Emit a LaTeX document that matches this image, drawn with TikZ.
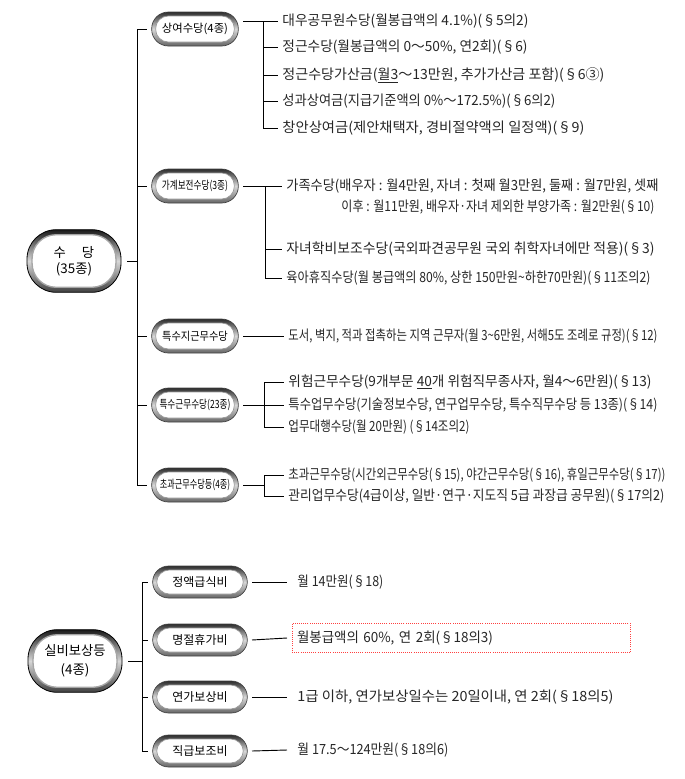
\documentclass[tikz,border=0pt]{standalone}
\usepackage{fontspec}
\setmainfont{Noto Sans CJK KR}
\usepackage{graphicx}
\usepackage{tikz}
\usetikzlibrary{positioning, calc}
\definecolor{ringdark}{RGB}{45,45,45}
\definecolor{ringlight}{RGB}{215,215,215}
% stretch a line to a width given in pixels of the layout
\newcommand{\fitw}[2]{\resizebox{\dimexpr 0.75pt*#1\relax}{\height}{#2}}

\begin{document}
\begin{tikzpicture}[x=0.75pt, y=-0.75pt, line width=0.7pt,
    pill/.style={rounded corners=12.5pt, minimum width=65pt, minimum height=25.5pt, inner sep=1pt,
        top color=ringdark, bottom color=black!60, middle color=ringlight, draw=black!75, line width=0.5pt,
        outer sep=3.5pt, font=\fontsize{8.5}{9}\selectfont,
        path picture={\draw[fill=white, draw=gray!80, line width=0.5pt, rounded corners=9.5pt]
            ($(path picture bounding box.north west)+(3pt,-3pt)$) rectangle
            ($(path picture bounding box.south east)+(-3pt,3pt)$);}},
    lowpill/.style={pill, minimum width=71pt, minimum height=24pt, rounded corners=12pt,
        font=\fontsize{9}{10}\selectfont},
    root/.style={rounded corners=22pt, minimum width=70.5pt, minimum height=47pt, inner sep=1pt,
        top color=black!90, bottom color=black!75, middle color=ringlight, draw=black, line width=0.6pt,
        outer sep=4.5pt, align=center, font=\fontsize{10}{12}\selectfont,
        path picture={\draw[fill=white, draw=gray!70, line width=1pt, rounded corners=18pt]
            ($(path picture bounding box.north west)+(3.8pt,-3.8pt)$) rectangle
            ($(path picture bounding box.south east)+(-3.8pt,3.8pt)$);}},
    item/.style={anchor=west, inner xsep=3pt, inner ysep=1pt, text=black!85,
        font=\fontsize{10.5}{12}\selectfont},
    lowitem/.style={item, inner xsep=7.5pt}]
\useasboundingbox (0,0) rectangle (685,779);

% 수당
\node[root] (sudang) at (74,261) {수\hspace{1.2em}당\\(35종)};
\node[pill] (sangyeo) at (195,29) {상여수당(4종)};
\node[pill] (gagye) at (195,186) {\scalebox{0.76}[1]{가계보전수당(3종)}};
\node[pill] (teuksuji) at (195,336) {\scalebox{0.9}[1]{특수지근무수당}};
\node[pill] (teuksu) at (195,405) {\scalebox{0.76}[1]{특수근무수당(23종)}};
\node[pill] (chogwa) at (195,485) {\scalebox{0.72}[1]{초과근무수당등(4종)}};

\node[item] (s1) at (278,21) {\fitw{246}{대우공무원수당(월봉급액의 4.1\%)(§5의2)}};
\node[item] (s2) at (278,47) {\fitw{245}{정근수당(월봉급액의 0～50\%, 연2회)(§6)}};
\node[item] (s3) at (278,75) {\fitw{322}{정근수당가산금(\underline{월3}～13만원, 추가가산금 포함)(§6③)}};
\node[item] (s4) at (278,101) {\fitw{273}{성과상여금(지급기준액의 0\%～172.5\%)(§6의2)}};
\node[item] (s5) at (278,128) {\fitw{302}{창안상여금(제안채택자, 경비절약액의 일정액)(§9)}};

\node[item] (g1) at (282,186) {\fitw{372}{가족수당(배우자 : 월4만원, 자녀 : 첫째 월3만원, 둘째 : 월7만원, 셋째}};
\node[item] (g1b) at (337,207) {\fitw{313}{이후 : 월11만원, 배우자·자녀 제외한 부양가족 : 월2만원(§10)}};
\node[item] (g2) at (282,249) {\fitw{368}{자녀학비보조수당(국외파견공무원 국외 취학자녀에만 적용)(§3)}};
\node[item] (g3) at (282,278) {\fitw{364}{육아휴직수당(월 봉급액의 80\%, 상한 150만원\textasciitilde 하한70만원)(§11조의2)}};

\node[item] (j1) at (284,336) {\fitw{369}{도서, 벽지, 적과 접촉하는 지역 근무자(월 3\textasciitilde 6만원, 서해5도 조례로 규정)(§12)}};

\node[item] (r1) at (284,382) {\fitw{363}{위험근무수당(9개부문 \underline{40}개 위험직무종사자, 월4～6만원)(§13)}};
\node[item] (r2) at (284,405) {\fitw{369}{특수업무수당(기술정보수당, 연구업무수당, 특수직무수당 등 13종)(§14)}};
\node[item] (r3) at (284,427) {\fitw{181}{업무대행수당(월 20만원) (§14조의2)}};

\node[item] (c1) at (284,475) {\fitw{377}{초과근무수당(시간외근무수당(§15), 야간근무수당(§16), 휴일근무수당(§17))}};
\node[item] (c2) at (284,496) {\fitw{376}{관리업무수당(4급이상, 일반·연구·지도직 5급 과장급 공무원)(§17의2)}};

\coordinate (ta) at (137,0);
\coordinate (tb) at (263,0);
\coordinate (tc) at (265,0);
\coordinate (td) at (264,0);

\draw (sudang.east) -- (ta |- sudang.east);
\draw (ta |- sangyeo.west) -- (ta |- chogwa.west);
\foreach \n in {sangyeo, gagye, teuksuji, teuksu, chogwa}
    \draw (ta |- \n.west) -- (\n.west);

\draw (sangyeo.east |- s1.west) -- (s1.west);
\draw (tb |- s1.west) -- (tb |- s5.west);
\foreach \i in {2,...,5}
    \draw (tb |- s\i.west) -- (s\i.west);

\draw (gagye.east) -- (g1.west);
\draw (tc |- g1.west) -- (tc |- g3.west);
\foreach \i in {2,3}
    \draw (tc |- g\i.west) -- (g\i.west);

\draw (teuksuji.east) -- (j1.west);

\draw (teuksu.east) -- (r2.west);
\draw (td |- r1.west) -- (td |- r3.west);
\foreach \i in {1,3}
    \draw (td |- r\i.west) -- (r\i.west);

\draw (chogwa.east) -- (td |- chogwa.east);
\draw (td |- c1.west) -- (td |- c2.west);
\foreach \i in {1,2}
    \draw (td |- c\i.west) -- (c\i.west);

% 실비보상등
\node[root] (silbi) at (75,661) {실비보상등\\[2pt](4종)};
\node[lowpill] (sikbi) at (200,582) {정액급식비};
\node[lowpill] (myeongjeol) at (200,640) {명절휴가비};
\node[lowpill] (yeonga) at (200,697) {연가보상비};
\node[lowpill] (jikgeup) at (200,751) {직급보조비};

\node[lowitem] (b1) at (287,582) {\fitw{86}{월 14만원(§18)}};
\node[item, outer xsep=3.75pt, inner xsep=3.75pt, text width=246pt, minimum height=22pt,
    draw=red!75, densely dotted, line width=0.6pt] (b2) at (287,638) {\fitw{196}{월봉급액의 60\%, 연 2회(§18의3)}};
\node[lowitem] (b3) at (287,697) {\fitw{316}{1급 이하, 연가보상일수는 20일이내, 연 2회(§18의5)}};
\node[lowitem] (b4) at (287,750) {\fitw{151}{월 17.5～124만원(§18의6)}};

\coordinate (te) at (142,0);
\draw (silbi.east) -- (te |- silbi.east);
\draw (te |- sikbi.west) -- (te |- jikgeup.west);
\foreach \n/\m in {sikbi/b1, myeongjeol/b2, yeonga/b3, jikgeup/b4} {
    \draw (te |- \n.west) -- (\n.west);
    \draw (\n.east) -- (\m.west);
}
\end{tikzpicture}
\end{document}
